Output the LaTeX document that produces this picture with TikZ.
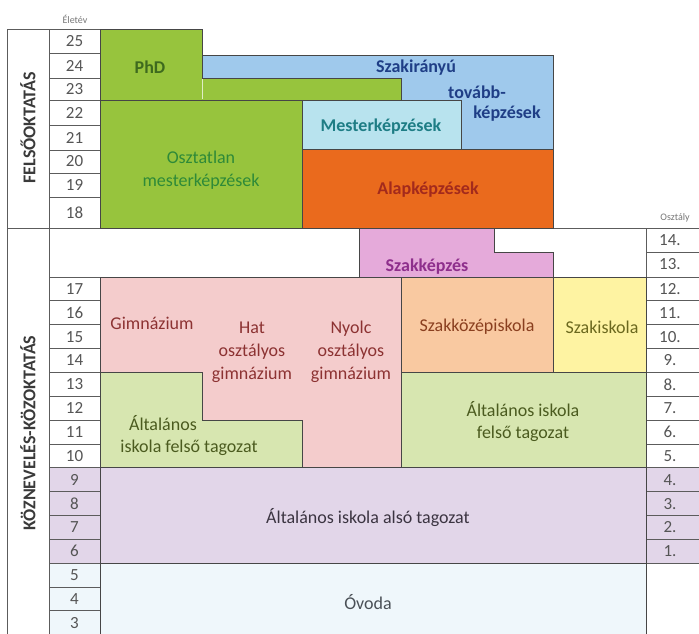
\documentclass[tikz,border=0pt]{standalone}
\usepackage{fontspec}
\setmainfont{Carlito}
% line and text greys
\definecolor{gridline}{HTML}{5C5C5C}
\definecolor{edge}{HTML}{464646}
\definecolor{numgray}{HTML}{555555}
\definecolor{sidegray}{HTML}{3A3A3A}
% block fills
\definecolor{phdgreen}{HTML}{97C43D}
\definecolor{blueblk}{HTML}{9FC9EC}
\definecolor{mestblk}{HTML}{B8E3EE}
\definecolor{orangeblk}{HTML}{EA6A1D}
\definecolor{gimnpink}{HTML}{F4CCCC}
\definecolor{szakkepz}{HTML}{E5AADA}
\definecolor{szakkoz}{HTML}{F9C9A1}
\definecolor{szakisk}{HTML}{FEF3A2}
\definecolor{felsogreen}{HTML}{D7E6B0}
\definecolor{lavender}{HTML}{E2D6E9}
\definecolor{ovodablue}{HTML}{EFF7FB}
% block text colours
\definecolor{tphd}{HTML}{3E6A1E}
\definecolor{tosztatlan}{HTML}{2E8A38}
\definecolor{tblue}{HTML}{1F3E86}
\definecolor{tmest}{HTML}{1E7D85}
\definecolor{talap}{HTML}{A32A1C}
\definecolor{tgimn}{HTML}{8C3232}
\definecolor{tszakkepz}{HTML}{8E2F8C}
\definecolor{tszakkoz}{HTML}{8A3F1F}
\definecolor{tszakisk}{HTML}{6B681E}
\definecolor{tfelso}{HTML}{4B5B1F}
\definecolor{talso}{HTML}{3B3441}
\definecolor{tovoda}{HTML}{4A5056}
\begin{document}
\begin{tikzpicture}[x=1pt,y=-1pt,
  grid/.style={draw=gridline,line width=0.9pt},
  blk/.style={draw=edge,line width=0.9pt},
  lbl/.style={font=\fontsize{18}{23}\selectfont, inner sep=0pt, align=center},
  blbl/.style={font=\fontsize{18}{23}\selectfont\bfseries, inner sep=0pt, align=center},
  num/.style={font=\fontsize{17}{20}\selectfont, text=numgray, inner sep=0pt},
  head/.style={font=\fontsize{10}{12}\selectfont, text=numgray!80, inner sep=0pt},
  side/.style={font=\fontsize{18}{20}\selectfont\bfseries, text=sidegray, rotate=90, inner sep=0pt},
]
\clip (0,0) rectangle (699,633);
\fill[white] (0,0) rectangle (699,633);

% ---- left frame with the two section titles ----
\draw[grid] (7,29) rectangle (49,228);
\draw[grid] (7,228) -- (7,640);
\draw[grid] (7,228) -- (705,228);
\draw[grid] (49,228) -- (49,640);
\draw[grid] (646,228) -- (646,640);
\node[side] (felso) at (28,128) {FELSŐOKTATÁS};
\node[side] (kozn) at (28,433) {KÖZNEVELÉS-KÖZOKTATÁS};

% ---- column headings ----
\node[head] (eletev) at (75,19) {Életév};
\node[head] (osztaly) at (675,218) {Osztály};

% ---- age column, higher education ----
\foreach \n/\t/\b in {25/29/53, 24/53/78, 23/78/100, 22/100/125,
                      21/125/150, 20/150/173, 19/173/197, 18/197/228} {
  \draw[grid, fill=white] (49,\t) rectangle (100,\b);
  \node[num] (age\n) at (74.5,{(\t+\b)/2}) {\n};
}

% ---- age column, public education ----
\foreach \n in {17,...,3} {
  \pgfmathsetmacro\t{277+(17-\n)*23.85}
  \pgfmathsetmacro\b{\t+23.85}
  \ifnum\n>9
    \def\cellfill{white}
  \else\ifnum\n>5
    \def\cellfill{lavender}
  \else
    \def\cellfill{ovodablue}
  \fi\fi
  \draw[grid, fill=\cellfill] (49,\t) rectangle (100,\b);
  \node[num] (age\n) at (74.5,{\t+11.9}) {\n};
}

% ---- school year column ----
\draw[grid, fill=white] (646,228) rectangle (705,252);
\node[num] (gr14) at (670,240) {14.};
\draw[grid, fill=white] (646,252) rectangle (705,277);
\node[num] (gr13) at (670,264.5) {13.};
\foreach \k in {12,...,1} {
  \pgfmathsetmacro\t{277+(12-\k)*23.85}
  \pgfmathsetmacro\b{\t+23.85}
  \ifnum\k>4 \def\cellfill{white}\else\def\cellfill{lavender}\fi
  \draw[grid, fill=\cellfill] (646,\t) rectangle (705,\b);
  \node[num] (gr\k) at (670,{\t+11.9}) {\k.};
}

% ---- higher education blocks ----
\draw[blk, fill=blueblk] (202,55) rectangle (553,149);
\draw[blk, fill=phdgreen] (100,29) -- (202,29) -- (202,78) -- (401,78)
  -- (401,100) -- (100,100) -- cycle;
\draw[white, line width=0.8pt, opacity=0.7] (202,79) -- (202,99);
\draw[blk, fill=phdgreen] (100,100) rectangle (302,228);
\draw[blk, fill=mestblk] (302,100) rectangle (461,149);
\draw[blk, fill=orangeblk] (302,149) rectangle (553,228);

\node[blbl, text=tphd] (phd) at (150,67) {PhD};
\node[blbl, text=tblue] (szakir1) at (416,68) {Szakirányú};
\node[blbl, text=tblue] (szakir2) at (477,92) {tovább-};
\node[blbl, text=tblue] (szakir3) at (507,114) {képzések};
\node[blbl, text=tmest] (mester) at (381,127) {Mesterképzések};
\node[lbl, text=tosztatlan] (osztatlan) at (201,170) {Osztatlan\\mesterképzések};
\node[blbl, text=talap] (alap) at (428,190) {Alapképzések};

% ---- secondary and primary education blocks ----
\draw[blk, fill=gimnpink] (100,277) rectangle (401,467.8);
\draw[blk, fill=felsogreen] (100,372.4) -- (202,372.4) -- (202,420.1)
  -- (302,420.1) -- (302,467.8) -- (100,467.8) -- cycle;
\draw[blk, fill=szakkepz] (359,228) -- (494,228) -- (494,252) -- (553,252)
  -- (553,277) -- (359,277) -- cycle;
\draw[blk, fill=szakkoz] (401,277) rectangle (553,372.4);
\draw[blk, fill=szakisk] (553,277) rectangle (646,372.4);
\draw[blk, fill=felsogreen] (401,372.4) rectangle (646,467.8);
\draw[blk, fill=lavender] (100,467.8) rectangle (646,563.2);
\draw[blk, fill=ovodablue] (100,563.2) rectangle (646,645);

\node[blbl, text=tszakkepz] (szakkepzes) at (427,267) {Szakképzés};
\node[lbl, text=tgimn] (gimn) at (152,323) {Gimnázium};
\node[lbl, text=tgimn] (hat) at (252,352) {Hat\\osztályos\\gimnázium};
\node[lbl, text=tgimn] (nyolc) at (351,352) {Nyolc\\osztályos\\gimnázium};
\node[lbl, text=tszakkoz] (szakkoz) at (477,327) {Szakközépiskola};
\node[lbl, text=tszakisk] (szakisk) at (602,327) {Szakiskola};
\node[lbl, text=tfelso] (felsoL1) at (163,423) {Általános};
\node[lbl, text=tfelso] (felsoL2) at (189,448) {iskola felső tagozat};
\node[lbl, text=tfelso, font=\fontsize{18}{22}\selectfont] (felsoR) at (523,422) {Általános iskola\\felső tagozat};
\node[lbl, text=talso] (also) at (368,518) {Általános iskola alsó tagozat};
\node[lbl, text=tovoda] (ovoda) at (368,602) {Óvoda};
\end{tikzpicture}
\end{document}
